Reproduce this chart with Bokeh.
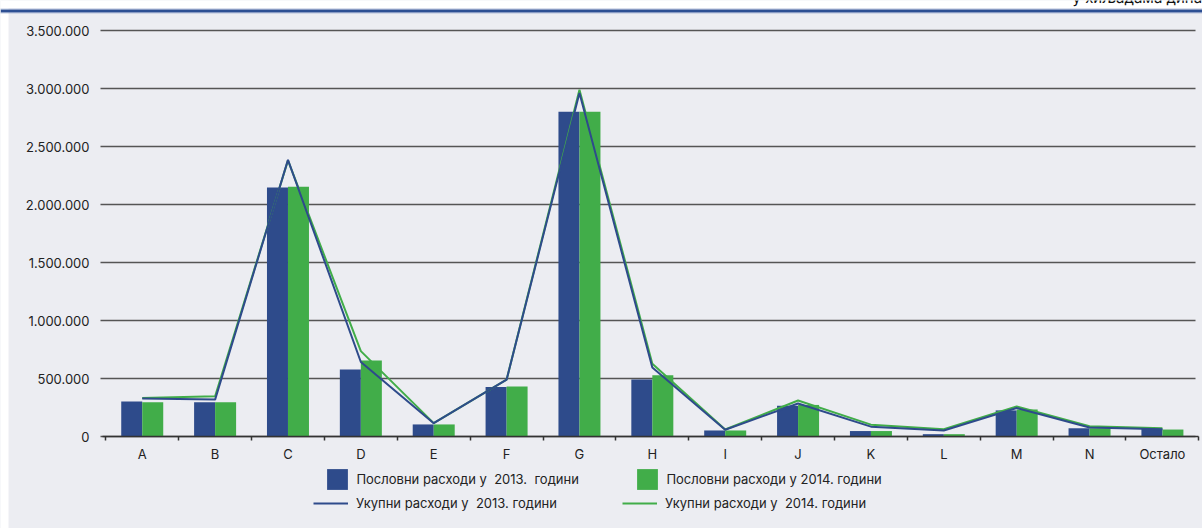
from bokeh.plotting import figure
from bokeh.models import (Range1d, LinearAxis, FixedTicker, Legend, LegendItem,
                          BoxAnnotation, Span, Label, ColumnDataSource)
from bokeh.transform import dodge
from bokeh.embed import file_html
from bokeh.resources import INLINE

# ---------------- data ----------------
categories = ["A", "B", "C", "D", "E", "F", "G", "H", "I", "J", "K", "L", "M", "N", "Остало"]
business_2013 = [302000, 296000, 2146000, 578000, 104000, 426000, 2800000, 492000, 52000, 265000, 47000, 20000, 225000, 71000, 67000]
business_2014 = [296000, 296000, 2152000, 656000, 104000, 432000, 2800000, 527000, 52000, 272000, 47000, 20000, 233000, 71000, 60000]
total_2013 = [327000, 318000, 2385000, 642000, 115000, 490000, 2962000, 594000, 58000, 285000, 85000, 52000, 245000, 78000, 63000]
total_2014 = [331000, 347000, 2380000, 736000, 115000, 490000, 2990000, 628000, 60000, 310000, 102000, 63000, 259000, 89000, 72000]
y_ticks = [0, 500000, 1000000, 1500000, 2000000, 2500000, 3000000, 3500000]
y_tick_labels = ["0", "500.000", "1.000.000", "1.500.000", "2.000.000", "2.500.000", "3.000.000", "3.500.000"]
legend_labels = ["Пословни расходи у  2013.  години", "Пословни расходи у 2014. години",
                 "Укупни расходи у  2013. години", "Укупни расходи у  2014. години"]
unit_note = "у хиљадама динара"

# ---------------- styling ----------------
BLUE = "#2e4b8b"
GREEN = "#41ad49"
BG = "#ecedf2"
FONT = "Inter"
W, H = 1202, 528
CAT0_PX, CAT_W = 105.3, 72.87   # first category boundary (px), category width
Y0_PX, PX_PER_UNIT = 436.0, 406.0 / 3500000.0


def xd(px):
    return (px - CAT0_PX) / CAT_W


def yd(py):
    return (Y0_PX - py) / PX_PER_UNIT


n = len(categories)
centers = [i + 0.5 for i in range(n)]
bar_w = 21.0 / CAT_W

src = ColumnDataSource(dict(x=centers, b13=business_2013, b14=business_2014,
                            t13=total_2013, t14=total_2014))

p = figure(width=W, height=H,
           x_range=Range1d(xd(0), xd(W)),
           y_range=Range1d(yd(H), yd(0)),
           x_axis_type=None, y_axis_type=None,
           toolbar_location=None, output_backend="svg",
           min_border=0, background_fill_color=BG, border_fill_color=BG,
           outline_line_color=None)

# gridlines
p.segment(x0=xd(100), x1=xd(1195), y0=y_ticks, y1=y_ticks, line_color="#555555", line_width=1.3)

# bars
r_b13 = p.vbar(x=dodge("x", -bar_w / 2, range=p.x_range), top="b13", width=bar_w, bottom=0,
               source=src, fill_color=BLUE, line_color=None)
r_b14 = p.vbar(x=dodge("x", bar_w / 2, range=p.x_range), top="b14", width=bar_w, bottom=0,
               source=src, fill_color=GREEN, line_color=None)
# lines
r_t14 = p.line(x="x", y="t14", source=src, line_color=GREEN, line_width=2)
r_t13 = p.line(x="x", y="t13", source=src, line_color=BLUE, line_width=2)

# x axis with ticks at category boundaries
ax_ticks = LinearAxis(fixed_location=0, ticker=FixedTicker(ticks=list(range(n + 1))),
                      bounds=(-0.05, n), axis_line_color="#333333", axis_line_width=1.5,
                      major_tick_line_color="#333333", major_tick_line_width=1.5,
                      major_tick_out=4, major_tick_in=0, minor_tick_line_color=None,
                      major_label_overrides={i: "" for i in range(n + 1)})
p.add_layout(ax_ticks, "below")
# category labels
ax_lab = LinearAxis(fixed_location=0, ticker=FixedTicker(ticks=centers),
                    major_label_overrides={c: lab for c, lab in zip(centers, categories)},
                    axis_line_color=None, major_tick_line_color=None, minor_tick_line_color=None,
                    major_tick_out=0, major_tick_in=0, minor_tick_out=0, minor_tick_in=0,
                    major_label_standoff=9, major_label_text_font=FONT,
                    major_label_text_font_size="13px", major_label_text_color="#222222")
p.add_layout(ax_lab, "below")
# y axis labels
ax_y = LinearAxis(fixed_location=xd(100), ticker=FixedTicker(ticks=y_ticks),
                  major_label_overrides={t: s for t, s in zip(y_ticks, y_tick_labels)},
                  axis_line_color=None, major_tick_line_color=None, minor_tick_line_color=None,
                  major_tick_out=0, major_tick_in=0, minor_tick_out=0, minor_tick_in=0,
                  major_label_standoff=11, major_label_text_font=FONT,
                  major_label_text_font_size="13px", major_label_text_color="#222222")
p.add_layout(ax_y, "left")

# white margins (top and left) and the blue band
p.add_layout(BoxAnnotation(bottom=yd(8), fill_color="white", fill_alpha=1, line_color=None))
p.add_layout(BoxAnnotation(right=xd(8), fill_color="white", fill_alpha=1, line_color=None))
p.add_layout(Span(location=yd(10.5), dimension="width", line_color="#2d4f93", line_width=3))
p.add_layout(Span(location=yd(8.5), dimension="width", line_color="#8196c4", line_width=1, line_dash="1 1"))
p.add_layout(Span(location=yd(12.5), dimension="width", line_color="#8196c4", line_width=1, line_dash="1 1"))
p.add_layout(Label(x=xd(1072), y=yd(6), text=unit_note, text_baseline="bottom",
                   text_font=FONT, text_font_size="15px", text_color="#111111"))


def make_legend(renderer, label, loc, gw, gh, standoff):
    return Legend(items=[LegendItem(label=label, renderers=[renderer])], location=loc,
                  glyph_width=gw, glyph_height=gh, label_height=gh, label_standoff=standoff,
                  padding=0, margin=0, spacing=0, border_line_color=None, background_fill_alpha=0,
                  label_text_font=FONT, label_text_font_size="13px", label_text_color="#222222")


p.add_layout(make_legend(r_b13, legend_labels[0], (324.4, H - 492), 26, 26, 6))
p.add_layout(make_legend(r_b14, legend_labels[1], (634.4, H - 492), 26, 26, 6))
p.add_layout(make_legend(r_t13, legend_labels[2], (313, H - 510.5), 35, 16, 8))
p.add_layout(make_legend(r_t14, legend_labels[3], (622, H - 510.5), 35, 16, 8))

open("out.html", "w").write(file_html(p, INLINE))
